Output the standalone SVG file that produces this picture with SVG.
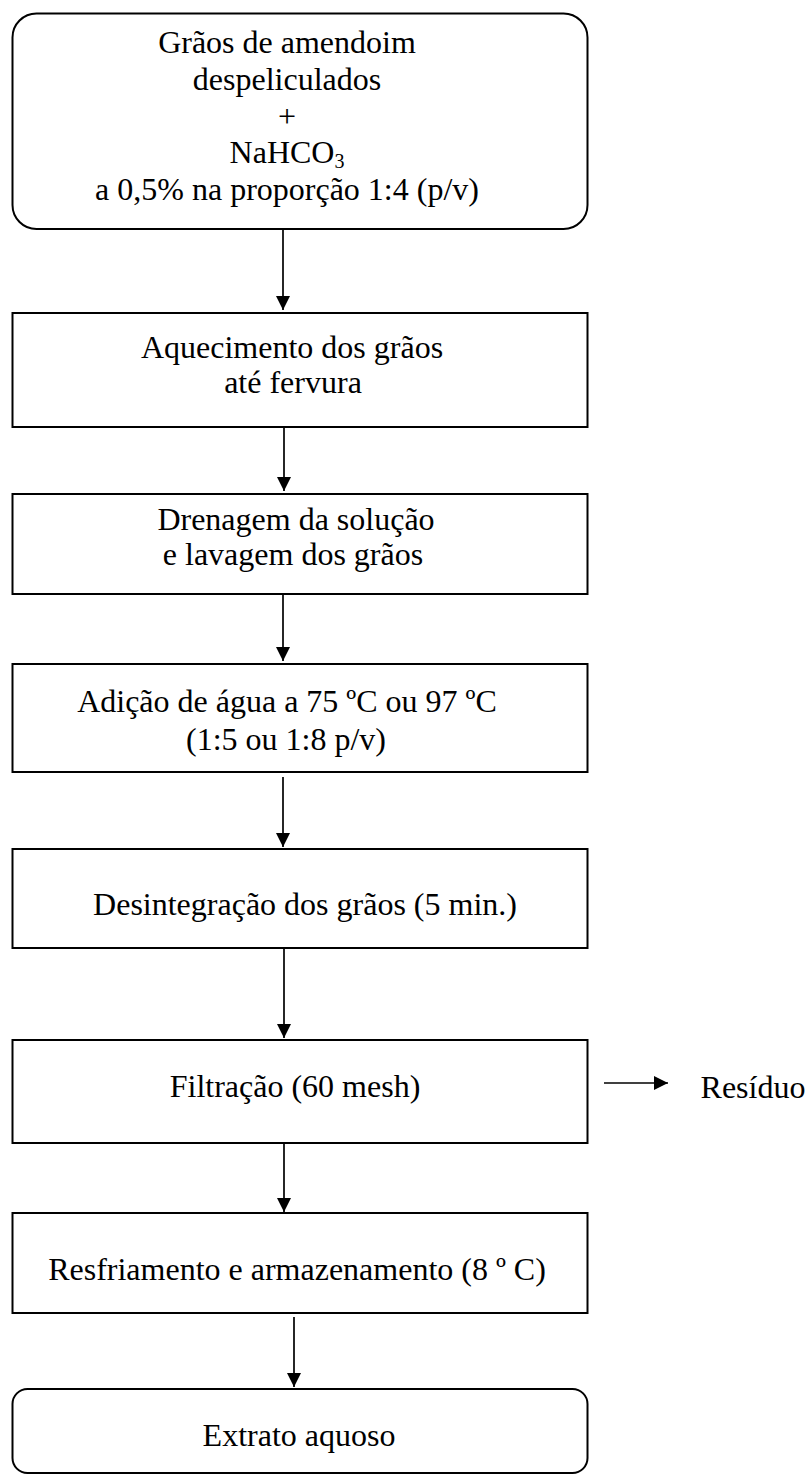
<svg xmlns="http://www.w3.org/2000/svg" width="809" height="1478" viewBox="0 0 809 1478">
<style>
.box{fill:#fff;stroke:#000;stroke-width:2}
.t{font-family:"Liberation Serif","Times New Roman",serif;font-size:32px;fill:#000;text-anchor:middle}
.c{stroke:#000;stroke-width:1.7;fill:none}
</style>
<defs>
<marker id="ah" markerUnits="userSpaceOnUse" markerWidth="14" markerHeight="14" refX="14" refY="7" orient="auto">
<path d="M0,0 L14,7 L0,14 Z" fill="#000"/>
</marker>
</defs>
<rect width="809" height="1478" fill="#fff"/>
<g id="connectors">
<line class="c" x1="283" y1="226" x2="283" y2="310" marker-end="url(#ah)"/>
<line class="c" x1="284" y1="423" x2="284" y2="491" marker-end="url(#ah)"/>
<line class="c" x1="283" y1="594" x2="283" y2="661" marker-end="url(#ah)"/>
<line class="c" x1="283" y1="777" x2="283" y2="847" marker-end="url(#ah)"/>
<line class="c" x1="284" y1="948" x2="284" y2="1038" marker-end="url(#ah)"/>
<line class="c" x1="284" y1="1143" x2="284" y2="1212" marker-end="url(#ah)"/>
<line class="c" x1="294" y1="1317" x2="294" y2="1387" marker-end="url(#ah)"/>
<line class="c" x1="604" y1="1083" x2="668" y2="1083" stroke-width="2.6" marker-end="url(#ah)"/>
</g>
<g id="n1">
<rect class="box" x="12.5" y="13.5" width="575" height="215.5" rx="24"/>
<text class="t" x="287" y="53">Grãos de amendoim</text>
<text class="t" x="287" y="90">despeliculados</text>
<text class="t" x="287" y="127">+</text>
<text class="t" x="287" y="163">NaHCO<tspan font-size="20" dy="5">3</tspan></text>
<text class="t" x="287" y="200">a 0,5% na proporção 1:4 (p/v)</text>
</g>
<g id="n2">
<rect class="box" x="12.5" y="313" width="575" height="114"/>
<text class="t" x="292" y="358">Aquecimento dos grãos</text>
<text class="t" x="293" y="393">até fervura</text>
</g>
<g id="n3">
<rect class="box" x="12.5" y="494" width="575" height="100"/>
<text class="t" x="296" y="530">Drenagem da solução</text>
<text class="t" x="293" y="565">e lavagem dos grãos</text>
</g>
<g id="n4">
<rect class="box" x="12.5" y="664" width="575" height="108"/>
<text class="t" x="287" y="712">Adição de água a 75 ºC ou 97 ºC</text>
<text class="t" x="286" y="750">(1:5 ou 1:8 p/v)</text>
</g>
<g id="n5">
<rect class="box" x="12.5" y="849" width="575" height="99"/>
<text class="t" x="305" y="915">Desintegração dos grãos (5 min.)</text>
</g>
<g id="n6">
<rect class="box" x="12.5" y="1040" width="575" height="103"/>
<text class="t" x="295" y="1097">Filtração (60 mesh)</text>
</g>
<g id="n6b">
<text class="t" x="753" y="1098">Resíduo</text>
</g>
<g id="n7">
<rect class="box" x="12.5" y="1213" width="575" height="100"/>
<text class="t" x="297" y="1280">Resfriamento e armazenamento (8 º C)</text>
</g>
<g id="n8">
<rect class="box" x="12.5" y="1389" width="575" height="84" rx="15"/>
<text class="t" x="299" y="1446">Extrato aquoso</text>
</g>
</svg>
